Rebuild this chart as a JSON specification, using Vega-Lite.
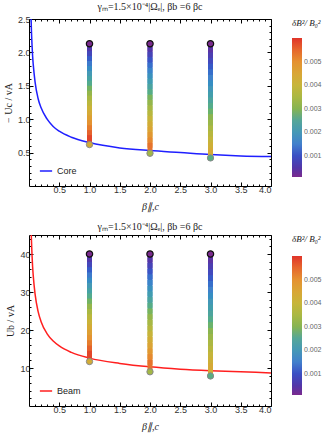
{
  "$schema": "https://vega.github.io/schema/vega-lite/v6.json",
  "padding": {"left": 3, "top": 2, "right": 2, "bottom": 2},
  "background": "white",
  "datasets": {
    "curves": [
      {"beta": 0.025, "core": 2.89, "beam": 54.1},
      {"beta": 0.03, "core": 2.66, "beam": 49.8},
      {"beta": 0.04, "core": 2.33, "beam": 43.8},
      {"beta": 0.05, "core": 2.11, "beam": 39.7},
      {"beta": 0.06, "core": 1.94, "beam": 36.6},
      {"beta": 0.07, "core": 1.82, "beam": 34.3},
      {"beta": 0.1, "core": 1.56, "beam": 29.5},
      {"beta": 0.15, "core": 1.31, "beam": 24.9},
      {"beta": 0.2, "core": 1.17, "beam": 22.2},
      {"beta": 0.3, "core": 1.0, "beam": 19.0},
      {"beta": 0.4, "core": 0.89, "beam": 17.1},
      {"beta": 0.5, "core": 0.82, "beam": 15.8},
      {"beta": 0.7, "core": 0.73, "beam": 14.1},
      {"beta": 1.0, "core": 0.65, "beam": 12.6},
      {"beta": 1.5, "core": 0.57, "beam": 11.2},
      {"beta": 2.0, "core": 0.53, "beam": 10.3},
      {"beta": 2.5, "core": 0.5, "beam": 9.7},
      {"beta": 3.0, "core": 0.47, "beam": 9.3},
      {"beta": 3.5, "core": 0.45, "beam": 9.0},
      {"beta": 4.0, "core": 0.44, "beam": 8.7}
    ],
    "dots": [
      {"beta": 1, "yc": 0.62, "yb": 11.7, "dB": 0.0043, "end": "bottom"},
      {"beta": 2, "yc": 0.49, "yb": 9.0, "dB": 0.0034, "end": "bottom"},
      {"beta": 3, "yc": 0.42, "yb": 7.9, "dB": 0.0027, "end": "bottom"},
      {"beta": 1, "yc": 2.13, "yb": 40, "dB": 0.0001, "end": "top"},
      {"beta": 2, "yc": 2.13, "yb": 40, "dB": 0.0001, "end": "top"},
      {"beta": 3, "yc": 2.13, "yb": 40, "dB": 0.0001, "end": "top"}
    ],
    "bars": [
      {"beta": 1, "yc": 2.13, "yc2": 2.056, "yb": 40, "yb2": 38.625, "dB": 0.00025},
      {"beta": 1, "yc": 2.056, "yc2": 1.982, "yb": 38.625, "yb2": 37.25, "dB": 0.00054},
      {"beta": 1, "yc": 1.982, "yc2": 1.908, "yb": 37.25, "yb2": 35.875, "dB": 0.00084},
      {"beta": 1, "yc": 1.908, "yc2": 1.834, "yb": 35.875, "yb2": 34.5, "dB": 0.00113},
      {"beta": 1, "yc": 1.834, "yc2": 1.76, "yb": 34.5, "yb2": 33.125, "dB": 0.00143},
      {"beta": 1, "yc": 1.76, "yc2": 1.686, "yb": 33.125, "yb2": 31.75, "dB": 0.00172},
      {"beta": 1, "yc": 1.686, "yc2": 1.612, "yb": 31.75, "yb2": 30.375, "dB": 0.00202},
      {"beta": 1, "yc": 1.612, "yc2": 1.538, "yb": 30.375, "yb2": 29, "dB": 0.00231},
      {"beta": 1, "yc": 1.538, "yc2": 1.464, "yb": 29, "yb2": 27.625, "dB": 0.00261},
      {"beta": 1, "yc": 1.464, "yc2": 1.39, "yb": 27.625, "yb2": 26.25, "dB": 0.0029},
      {"beta": 1, "yc": 1.39, "yc2": 1.316, "yb": 26.25, "yb2": 24.875, "dB": 0.0032},
      {"beta": 1, "yc": 1.316, "yc2": 1.242, "yb": 24.875, "yb2": 23.5, "dB": 0.00349},
      {"beta": 1, "yc": 1.242, "yc2": 1.168, "yb": 23.5, "yb2": 22.125, "dB": 0.00379},
      {"beta": 1, "yc": 1.168, "yc2": 1.094, "yb": 22.125, "yb2": 20.75, "dB": 0.00408},
      {"beta": 1, "yc": 1.094, "yc2": 1.02, "yb": 20.75, "yb2": 19.375, "dB": 0.00438},
      {"beta": 1, "yc": 1.02, "yc2": 0.946, "yb": 19.375, "yb2": 18, "dB": 0.00467},
      {"beta": 1, "yc": 0.946, "yc2": 0.872, "yb": 18, "yb2": 16.625, "dB": 0.00497},
      {"beta": 1, "yc": 0.872, "yc2": 0.798, "yb": 16.625, "yb2": 15.25, "dB": 0.00526},
      {"beta": 1, "yc": 0.798, "yc2": 0.724, "yb": 15.25, "yb2": 13.875, "dB": 0.00556},
      {"beta": 1, "yc": 0.724, "yc2": 0.65, "yb": 13.875, "yb2": 12.5, "dB": 0.00585},
      {"beta": 2, "yc": 2.13, "yc2": 2.05, "yb": 40, "yb2": 38.5, "dB": 0.00024},
      {"beta": 2, "yc": 2.05, "yc2": 1.97, "yb": 38.5, "yb2": 37, "dB": 0.00051},
      {"beta": 2, "yc": 1.97, "yc2": 1.89, "yb": 37, "yb2": 35.5, "dB": 0.00078},
      {"beta": 2, "yc": 1.89, "yc2": 1.81, "yb": 35.5, "yb2": 34, "dB": 0.00105},
      {"beta": 2, "yc": 1.81, "yc2": 1.73, "yb": 34, "yb2": 32.5, "dB": 0.00132},
      {"beta": 2, "yc": 1.73, "yc2": 1.65, "yb": 32.5, "yb2": 31, "dB": 0.00159},
      {"beta": 2, "yc": 1.65, "yc2": 1.57, "yb": 31, "yb2": 29.5, "dB": 0.00186},
      {"beta": 2, "yc": 1.57, "yc2": 1.49, "yb": 29.5, "yb2": 28, "dB": 0.00213},
      {"beta": 2, "yc": 1.49, "yc2": 1.41, "yb": 28, "yb2": 26.5, "dB": 0.0024},
      {"beta": 2, "yc": 1.41, "yc2": 1.33, "yb": 26.5, "yb2": 25, "dB": 0.00267},
      {"beta": 2, "yc": 1.33, "yc2": 1.25, "yb": 25, "yb2": 23.5, "dB": 0.00294},
      {"beta": 2, "yc": 1.25, "yc2": 1.17, "yb": 23.5, "yb2": 22, "dB": 0.00321},
      {"beta": 2, "yc": 1.17, "yc2": 1.09, "yb": 22, "yb2": 20.5, "dB": 0.00348},
      {"beta": 2, "yc": 1.09, "yc2": 1.01, "yb": 20.5, "yb2": 19, "dB": 0.00375},
      {"beta": 2, "yc": 1.01, "yc2": 0.93, "yb": 19, "yb2": 17.5, "dB": 0.00402},
      {"beta": 2, "yc": 0.93, "yc2": 0.85, "yb": 17.5, "yb2": 16, "dB": 0.00429},
      {"beta": 2, "yc": 0.85, "yc2": 0.77, "yb": 16, "yb2": 14.5, "dB": 0.00456},
      {"beta": 2, "yc": 0.77, "yc2": 0.69, "yb": 14.5, "yb2": 13, "dB": 0.00483},
      {"beta": 2, "yc": 0.69, "yc2": 0.61, "yb": 13, "yb2": 11.5, "dB": 0.0051},
      {"beta": 2, "yc": 0.61, "yc2": 0.53, "yb": 11.5, "yb2": 10, "dB": 0.00537},
      {"beta": 3, "yc": 2.13, "yc2": 2.046, "yb": 40, "yb2": 38.45, "dB": 0.00021},
      {"beta": 3, "yc": 2.046, "yc2": 1.962, "yb": 38.45, "yb2": 36.9, "dB": 0.00043},
      {"beta": 3, "yc": 1.962, "yc2": 1.878, "yb": 36.9, "yb2": 35.35, "dB": 0.00065},
      {"beta": 3, "yc": 1.878, "yc2": 1.794, "yb": 35.35, "yb2": 33.8, "dB": 0.00087},
      {"beta": 3, "yc": 1.794, "yc2": 1.71, "yb": 33.8, "yb2": 32.25, "dB": 0.00109},
      {"beta": 3, "yc": 1.71, "yc2": 1.626, "yb": 32.25, "yb2": 30.7, "dB": 0.00131},
      {"beta": 3, "yc": 1.626, "yc2": 1.542, "yb": 30.7, "yb2": 29.15, "dB": 0.00153},
      {"beta": 3, "yc": 1.542, "yc2": 1.458, "yb": 29.15, "yb2": 27.6, "dB": 0.00175},
      {"beta": 3, "yc": 1.458, "yc2": 1.374, "yb": 27.6, "yb2": 26.05, "dB": 0.00197},
      {"beta": 3, "yc": 1.374, "yc2": 1.29, "yb": 26.05, "yb2": 24.5, "dB": 0.00219},
      {"beta": 3, "yc": 1.29, "yc2": 1.206, "yb": 24.5, "yb2": 22.95, "dB": 0.00241},
      {"beta": 3, "yc": 1.206, "yc2": 1.122, "yb": 22.95, "yb2": 21.4, "dB": 0.00263},
      {"beta": 3, "yc": 1.122, "yc2": 1.038, "yb": 21.4, "yb2": 19.85, "dB": 0.00285},
      {"beta": 3, "yc": 1.038, "yc2": 0.954, "yb": 19.85, "yb2": 18.3, "dB": 0.00307},
      {"beta": 3, "yc": 0.954, "yc2": 0.87, "yb": 18.3, "yb2": 16.75, "dB": 0.00329},
      {"beta": 3, "yc": 0.87, "yc2": 0.786, "yb": 16.75, "yb2": 15.2, "dB": 0.00351},
      {"beta": 3, "yc": 0.786, "yc2": 0.702, "yb": 15.2, "yb2": 13.65, "dB": 0.00373},
      {"beta": 3, "yc": 0.702, "yc2": 0.618, "yb": 13.65, "yb2": 12.1, "dB": 0.00395},
      {"beta": 3, "yc": 0.618, "yc2": 0.534, "yb": 12.1, "yb2": 10.55, "dB": 0.00417},
      {"beta": 3, "yc": 0.534, "yc2": 0.45, "yb": 10.55, "yb2": 9, "dB": 0.00439}
    ]
  },
  "vconcat": [
    {
      "width": 242,
      "height": 167,
      "title": {"text": "γₘ=1.5×10⁻⁴|Ωₑ|, βb =6 βc", "font": "Liberation Serif", "fontSize": 10, "fontWeight": "normal", "color": "#222", "offset": 3},
      "resolve": {"axis": {"x": "independent", "y": "independent"}},
      "layer": [
        {
          "data": {"name": "curves"},
          "mark": {"type": "line", "strokeWidth": 1.5, "clip": true, "interpolate": "monotone"},
          "encoding": {
            "x": {"field": "beta", "type": "quantitative", "scale": {"domain": [0, 4], "nice": false, "zero": false},
              "axis": {"orient": "bottom", "title": "β∥,c", "titleFontStyle": "italic", "titlePadding": 7,
                "values": [0.1,0.2,0.3,0.4,0.5,0.6,0.7,0.8,0.9,1,1.1,1.2,1.3,1.4,1.5,1.6,1.7,1.8,1.9,2,2.1,2.2,2.3,2.4,2.5,2.6,2.7,2.8,2.9,3,3.1,3.2,3.3,3.4,3.5,3.6,3.7,3.8,3.9,4],
                "labelExpr": "abs(datum.value*2 - round(datum.value*2)) < 0.001 ? format(datum.value, '.1f') : ''",
                "tickSize": {"condition": {"test": "abs(datum.value*2 - round(datum.value*2)) < 0.001", "value": -4}, "value": -2}}},
            "y": {"field": "core", "type": "quantitative", "scale": {"domain": [0, 2.5], "nice": false},
              "axis": {"orient": "left", "title": "− Uc / vA", "titlePadding": 4,
                "values": [0.1,0.2,0.3,0.4,0.5,0.6,0.7,0.8,0.9,1,1.1,1.2,1.3,1.4,1.5,1.6,1.7,1.8,1.9,2,2.1,2.2,2.3,2.4,2.5],
                "labelExpr": "abs(datum.value*2 - round(datum.value*2)) < 0.001 ? format(datum.value, '.1f') : ''",
                "tickSize": {"condition": {"test": "abs(datum.value*2 - round(datum.value*2)) < 0.001", "value": -4}, "value": -2}}},
            "stroke": {"datum": "Core", "type": "nominal", "scale": {"range": ["#1f1fff"]},
              "legend": {"title": null, "orient": "bottom-left", "offset": 8, "symbolType": "stroke", "symbolStrokeWidth": 1.5, "symbolSize": 150, "labelFontSize": 9, "labelFont": "Liberation Sans", "labelColor": "#222", "padding": 2}}
          }
        },
        {
          "data": {"name": "bars"},
          "mark": {"type": "rule", "strokeWidth": 5, "strokeCap": "square"},
          "encoding": {
            "x": {"field": "beta", "type": "quantitative",
              "axis": {"orient": "top", "title": null, "labels": false,
                "values": [0.1,0.2,0.3,0.4,0.5,0.6,0.7,0.8,0.9,1,1.1,1.2,1.3,1.4,1.5,1.6,1.7,1.8,1.9,2,2.1,2.2,2.3,2.4,2.5,2.6,2.7,2.8,2.9,3,3.1,3.2,3.3,3.4,3.5,3.6,3.7,3.8,3.9,4],
                "tickSize": {"condition": {"test": "abs(datum.value*2 - round(datum.value*2)) < 0.001", "value": -4}, "value": -2}}},
            "y": {"field": "yc", "type": "quantitative",
              "axis": {"orient": "right", "title": null, "labels": false,
                "values": [0.1,0.2,0.3,0.4,0.5,0.6,0.7,0.8,0.9,1,1.1,1.2,1.3,1.4,1.5,1.6,1.7,1.8,1.9,2,2.1,2.2,2.3,2.4,2.5],
                "tickSize": {"condition": {"test": "abs(datum.value*2 - round(datum.value*2)) < 0.001", "value": -4}, "value": -2}}},
            "y2": {"field": "yc2"},
            "color": {"field": "dB", "type": "quantitative",
              "scale": {"domain": [0.0001,0.0005,0.001,0.0015,0.002,0.0025,0.003,0.0035,0.004,0.0045,0.005,0.0055,0.006],
                "range": ["#7a2a8e","#5236a8","#3b4fc4","#4280cc","#4598b6","#55a698","#86b452","#aab843","#c7b53a","#d9a636","#e59131","#e6672d","#e0342a"]},
              "legend": {"type": "gradient", "title": "δB²/ B₀²", "titleFont": "Liberation Serif", "titleFontStyle": "italic", "titleFontSize": 9, "titleFontWeight": "normal", "titleColor": "#222", "titlePadding": 10,
                "gradientLength": 139, "gradientThickness": 10, "gradientStrokeWidth": 0, "values": [0.001,0.002,0.003,0.004,0.005], "format": ".3f",
                "labelFontSize": 7, "labelColor": "#666", "labelFont": "Liberation Sans", "offset": 20, "labelOverlap": false}}
          }
        },
        {
          "data": {"name": "dots"},
          "transform": [{"filter": "datum.end == 'bottom'"}],
          "mark": {"type": "point", "filled": true, "size": 40, "stroke": "#8a8a8a", "strokeWidth": 1, "opacity": 1},
          "encoding": {
            "x": {"field": "beta", "type": "quantitative", "axis": null},
            "y": {"field": "yc", "type": "quantitative", "axis": null},
            "fill": {"field": "dB", "type": "quantitative", "legend": null,
              "scale": {"domain": [0.0001,0.0005,0.001,0.0015,0.002,0.0025,0.003,0.0035,0.004,0.0045,0.005,0.0055,0.006],
                "range": ["#7a2a8e","#5236a8","#3b4fc4","#4280cc","#4598b6","#55a698","#86b452","#aab843","#c7b53a","#d9a636","#e59131","#e6672d","#e0342a"]}}
          }
        },
        {
          "data": {"name": "dots"},
          "transform": [{"filter": "datum.end == 'top'"}],
          "mark": {"type": "point", "filled": true, "size": 40, "stroke": "#111", "strokeWidth": 1.2, "opacity": 1},
          "encoding": {
            "x": {"field": "beta", "type": "quantitative", "axis": null},
            "y": {"field": "yc", "type": "quantitative", "axis": null},
            "fill": {"field": "dB", "type": "quantitative", "legend": null}
          }
        }
      ]
    },
    {
      "width": 242,
      "height": 171,
      "title": {"text": "γₘ=1.5×10⁻⁴|Ωₑ|, βb =6 βc", "font": "Liberation Serif", "fontSize": 10, "fontWeight": "normal", "color": "#222", "offset": 3},
      "resolve": {"axis": {"x": "independent", "y": "independent"}},
      "layer": [
        {
          "data": {"name": "curves"},
          "mark": {"type": "line", "strokeWidth": 1.5, "clip": true, "interpolate": "monotone"},
          "encoding": {
            "x": {"field": "beta", "type": "quantitative", "scale": {"domain": [0, 4], "nice": false, "zero": false},
              "axis": {"orient": "bottom", "title": "β∥,c", "titleFontStyle": "italic", "titlePadding": 7,
                "values": [0.1,0.2,0.3,0.4,0.5,0.6,0.7,0.8,0.9,1,1.1,1.2,1.3,1.4,1.5,1.6,1.7,1.8,1.9,2,2.1,2.2,2.3,2.4,2.5,2.6,2.7,2.8,2.9,3,3.1,3.2,3.3,3.4,3.5,3.6,3.7,3.8,3.9,4],
                "labelExpr": "abs(datum.value*2 - round(datum.value*2)) < 0.001 ? format(datum.value, '.1f') : ''",
                "tickSize": {"condition": {"test": "abs(datum.value*2 - round(datum.value*2)) < 0.001", "value": -4}, "value": -2}}},
            "y": {"field": "beam", "type": "quantitative", "scale": {"domain": [0, 45], "nice": false},
              "axis": {"orient": "left", "title": "Ub / vA", "titlePadding": 4,
                "values": [2,4,6,8,10,12,14,16,18,20,22,24,26,28,30,32,34,36,38,40,42,44],
                "labelExpr": "datum.value % 10 == 0 ? format(datum.value, 'd') : ''",
                "tickSize": {"condition": {"test": "datum.value % 10 == 0", "value": -4}, "value": -2}}},
            "stroke": {"datum": "Beam", "type": "nominal", "scale": {"range": ["#ff1f1f"]},
              "legend": {"title": null, "orient": "bottom-left", "offset": 8, "symbolType": "stroke", "symbolStrokeWidth": 1.5, "symbolSize": 150, "labelFontSize": 9, "labelFont": "Liberation Sans", "labelColor": "#222", "padding": 2}}
          }
        },
        {
          "data": {"name": "bars"},
          "mark": {"type": "rule", "strokeWidth": 5, "strokeCap": "square"},
          "encoding": {
            "x": {"field": "beta", "type": "quantitative",
              "axis": {"orient": "top", "title": null, "labels": false,
                "values": [0.1,0.2,0.3,0.4,0.5,0.6,0.7,0.8,0.9,1,1.1,1.2,1.3,1.4,1.5,1.6,1.7,1.8,1.9,2,2.1,2.2,2.3,2.4,2.5,2.6,2.7,2.8,2.9,3,3.1,3.2,3.3,3.4,3.5,3.6,3.7,3.8,3.9,4],
                "tickSize": {"condition": {"test": "abs(datum.value*2 - round(datum.value*2)) < 0.001", "value": -4}, "value": -2}}},
            "y": {"field": "yb", "type": "quantitative",
              "axis": {"orient": "right", "title": null, "labels": false,
                "values": [2,4,6,8,10,12,14,16,18,20,22,24,26,28,30,32,34,36,38,40,42,44],
                "tickSize": {"condition": {"test": "datum.value % 10 == 0", "value": -4}, "value": -2}}},
            "y2": {"field": "yb2"},
            "color": {"field": "dB", "type": "quantitative",
              "scale": {"domain": [0.0001,0.0005,0.001,0.0015,0.002,0.0025,0.003,0.0035,0.004,0.0045,0.005,0.0055,0.006],
                "range": ["#7a2a8e","#5236a8","#3b4fc4","#4280cc","#4598b6","#55a698","#86b452","#aab843","#c7b53a","#d9a636","#e59131","#e6672d","#e0342a"]},
              "legend": {"type": "gradient", "title": "δB²/ B₀²", "titleFont": "Liberation Serif", "titleFontStyle": "italic", "titleFontSize": 9, "titleFontWeight": "normal", "titleColor": "#222", "titlePadding": 12,
                "gradientLength": 139, "gradientThickness": 10, "gradientStrokeWidth": 0, "values": [0.001,0.002,0.003,0.004,0.005], "format": ".3f",
                "labelFontSize": 7, "labelColor": "#666", "labelFont": "Liberation Sans", "offset": 20, "labelOverlap": false}}
          }
        },
        {
          "data": {"name": "dots"},
          "transform": [{"filter": "datum.end == 'bottom'"}],
          "mark": {"type": "point", "filled": true, "size": 40, "stroke": "#8a8a8a", "strokeWidth": 1, "opacity": 1},
          "encoding": {
            "x": {"field": "beta", "type": "quantitative", "axis": null},
            "y": {"field": "yb", "type": "quantitative", "axis": null},
            "fill": {"field": "dB", "type": "quantitative", "legend": null,
              "scale": {"domain": [0.0001,0.0005,0.001,0.0015,0.002,0.0025,0.003,0.0035,0.004,0.0045,0.005,0.0055,0.006],
                "range": ["#7a2a8e","#5236a8","#3b4fc4","#4280cc","#4598b6","#55a698","#86b452","#aab843","#c7b53a","#d9a636","#e59131","#e6672d","#e0342a"]}}
          }
        },
        {
          "data": {"name": "dots"},
          "transform": [{"filter": "datum.end == 'top'"}],
          "mark": {"type": "point", "filled": true, "size": 40, "stroke": "#111", "strokeWidth": 1.2, "opacity": 1},
          "encoding": {
            "x": {"field": "beta", "type": "quantitative", "axis": null},
            "y": {"field": "yb", "type": "quantitative", "axis": null},
            "fill": {"field": "dB", "type": "quantitative", "legend": null}
          }
        }
      ]
    }
  ],
  "spacing": 10,
  "resolve": {
    "scale": {"color": "independent", "stroke": "independent"},
    "legend": {"color": "independent", "stroke": "independent"}
  },
  "config": {
    "view": {"stroke": null},
    "axis": {"grid": false, "labelFont": "Liberation Sans", "labelFontSize": 9, "labelColor": "#333", "tickColor": "#000", "domainColor": "#000", "labelPadding": 3,
      "titleFont": "Liberation Serif", "titleFontWeight": "normal", "titleFontSize": 10, "titleColor": "#222"}
  }
}
